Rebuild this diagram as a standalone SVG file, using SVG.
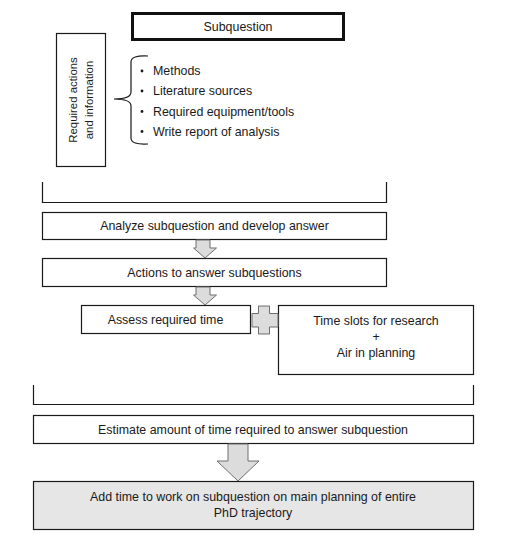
<svg xmlns="http://www.w3.org/2000/svg" width="511" height="542" viewBox="0 0 511 542">
<style>
text{font-family:"Liberation Sans",Arial,sans-serif;font-size:12.4px;fill:#1a1a1a}
.c{text-anchor:middle}
.r{font-size:11.4px}
.box{fill:#fff;stroke:#1a1a1a;stroke-width:1.2}
.ln{fill:none;stroke:#1a1a1a;stroke-width:1.2}
.arr{fill:#dcdcdc;stroke:#6e6e6e;stroke-width:1}
</style>
<rect width="511" height="542" fill="#fff"/>
<g id="subquestion">
<rect x="132.5" y="13.5" width="211" height="26" fill="#fff" stroke="#111" stroke-width="3"/>
<text class="c" x="238" y="31">Subquestion</text>
</g>
<g id="required">
<rect class="box" x="56.5" y="33.5" width="49" height="133"/>
<text class="c r" transform="translate(72.5,100) rotate(-90)" dy="0.35em">Required actions</text>
<text class="c r" transform="translate(89,100) rotate(-90)" dy="0.35em">and information</text>
</g>
<g id="list">
<path class="ln" d="M148,56 Q131,55 131,62 L131,92 Q131,99 114,99 Q131,99 131,106 L131,138 Q131,145 148,144"/>
<circle cx="142" cy="71" r="1.4" fill="#1a1a1a"/>
<circle cx="142" cy="91" r="1.4" fill="#1a1a1a"/>
<circle cx="142" cy="111.5" r="1.4" fill="#1a1a1a"/>
<circle cx="142" cy="131.5" r="1.4" fill="#1a1a1a"/>
<text x="153" y="75">Methods</text>
<text x="153" y="95">Literature sources</text>
<text x="153" y="115.5">Required equipment/tools</text>
<text x="153" y="135.5">Write report of analysis</text>
</g>
<g id="frame1">
<path class="ln" d="M42.5,182 L42.5,202.5 L386.5,202.5 L386.5,182"/>
</g>
<g id="analyze">
<rect class="box" x="42.5" y="212.5" width="344" height="27"/>
<text class="c" x="214.5" y="230">Analyze subquestion and develop answer</text>
</g>
<g id="actions">
<rect class="box" x="42.5" y="258.5" width="344" height="28"/>
<text class="c" x="214.5" y="277">Actions to answer subquestions</text>
</g>
<g id="assess">
<rect class="box" x="81.5" y="305.5" width="169" height="28"/>
<text class="c" x="165.5" y="324">Assess required time</text>
</g>
<g id="timeslots">
<rect class="box" x="278.5" y="305.5" width="195" height="69"/>
<text class="c" x="376" y="325">Time slots for research</text>
<text class="c" x="376" y="341">+</text>
<text class="c" x="376" y="357">Air in planning</text>
</g>
<g id="frame2">
<path class="ln" d="M33.5,385 L33.5,404.5 L473.5,404.5 L473.5,385"/>
</g>
<g id="estimate">
<rect class="box" x="33.5" y="415.5" width="440" height="28"/>
<text class="c" x="253" y="434">Estimate amount of time required to answer subquestion</text>
</g>
<g id="addtime">
<rect x="33.5" y="481.5" width="440" height="48" fill="#e6e6e6" stroke="#1a1a1a" stroke-width="1.2"/>
<text class="c" x="253" y="501">Add time to work on subquestion on main planning of entire</text>
<text class="c" x="253" y="517">PhD trajectory</text>
</g>
<g id="connectors">
<path class="arr" d="M196,240 L210,240 L210,248 L216.5,248 L205,258 L193.5,248 L196,248 Z"/>
<path class="arr" d="M196,287 L210,287 L210,295 L216.5,295 L205,305 L193.5,295 L196,295 Z"/>
<path class="arr" d="M258.5,306 L269.5,306 L269.5,313.5 L278,313.5 L278,327 L269.5,327 L269.5,334 L258.5,334 L258.5,327 L252,327 L252,313.5 L258.5,313.5 Z"/>
<path class="arr" d="M228,444 L248,444 L248,461 L259,461 L238,481 L217,461 L228,461 Z"/>
</g>
</svg>
